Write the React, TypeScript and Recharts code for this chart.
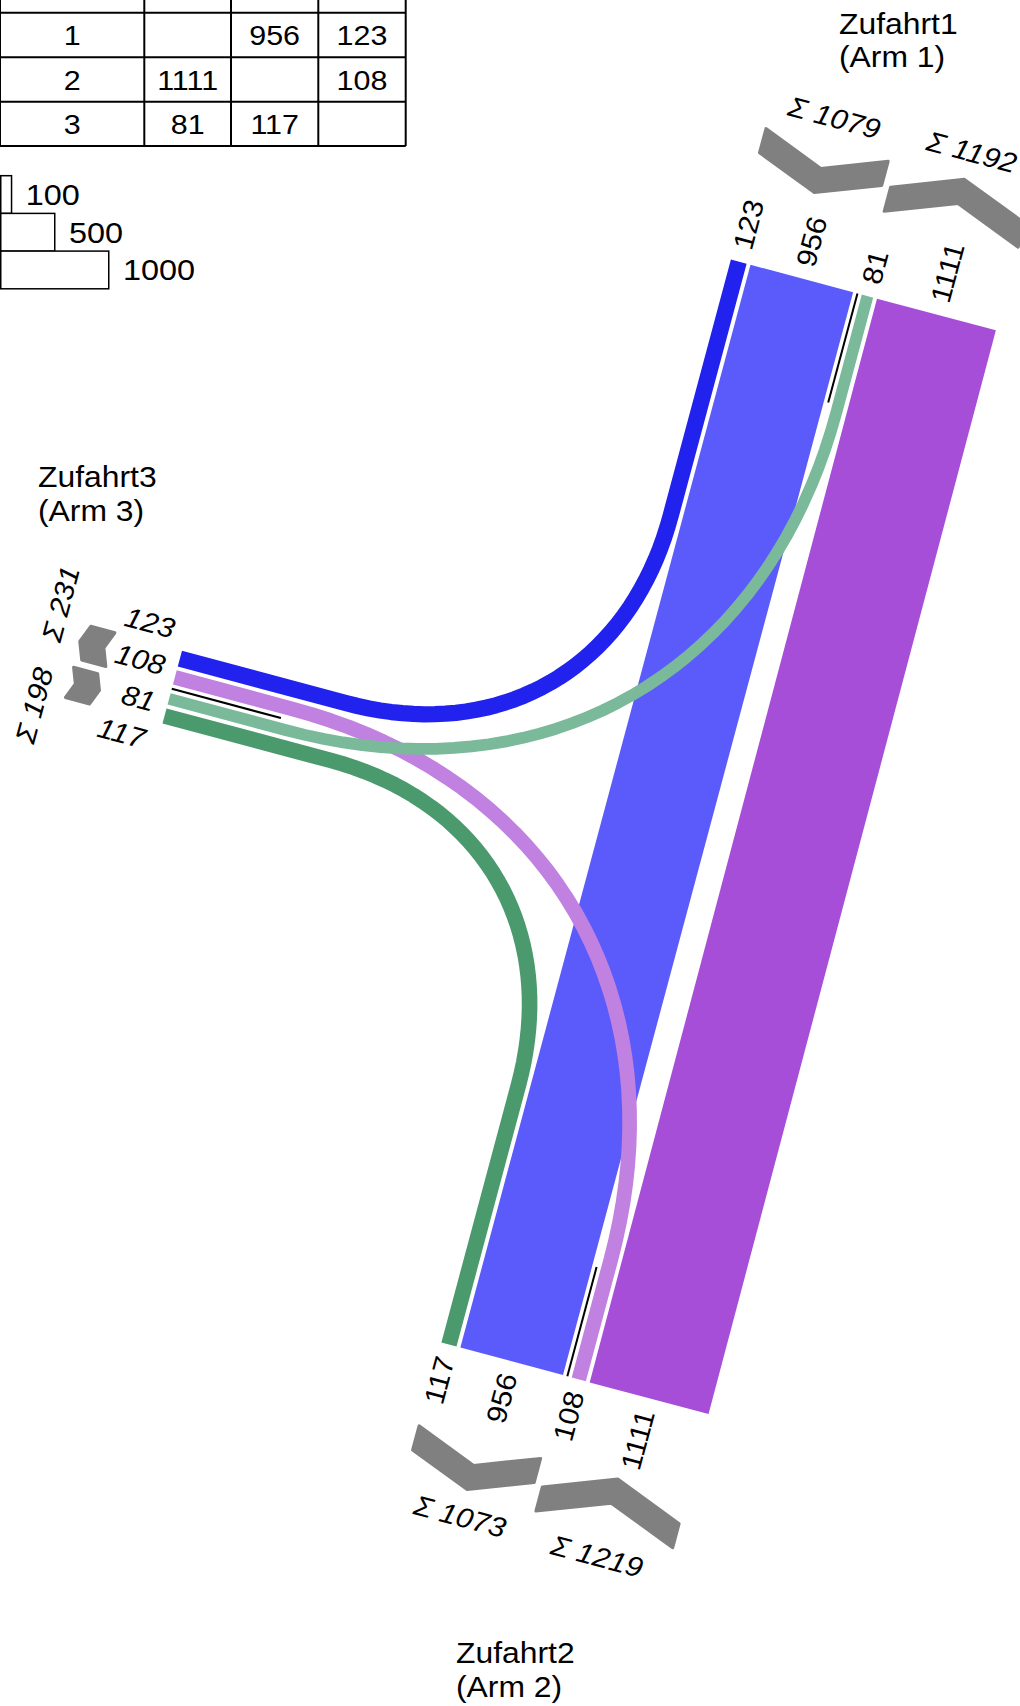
import React from "react";
import { ComposedChart, Line, Scatter, XAxis, YAxis } from "recharts";

// Knotenstrombelastung T-Knoten (Kfz), Zeilen = von, Spalten = nach
const ARMS = [1, 2, 3];
const ARM_TITLE = ["Zufahrt1", "Zufahrt2", "Zufahrt3"];
const ARM_SUB = ["(Arm 1)", "(Arm 2)", "(Arm 3)"];
const FROM_ARM_1 = [0, 956, 123];
const FROM_ARM_2 = [1111, 0, 108];
const FROM_ARM_3 = [81, 117, 0];
const LEGEND_STEPS = [100, 500, 1000];

const MATRIX = [FROM_ARM_1, FROM_ARM_2, FROM_ARM_3];

const COLORS: Record<string, string> = {
  "1-2": "#5b5bfb",
  "1-3": "#2222ee",
  "2-1": "#a74ed9",
  "2-3": "#c181e0",
  "3-1": "#7ab99a",
  "3-2": "#4b9a6d",
};

// ---- layout ----
const W = 1020;
const H = 1706;
const FONT = '"Liberation Sans", Arial, Helvetica, sans-serif';
const SX = 1.08; // glyphs of the original are a bit wider than Arial
const PX = 0.108; // px per vehicle
const W0 = 3;
const MED = 4.5;
const GAP = 4;
const RIGHT_T = 265;
const LEFT_T = 450;
const BEZ = 0.6;
const STOP = 113;
const LBL_GAP = 13;
const LBL_FS = 28;
const CHEV_TH = 25;
const CHEV_TAN = Math.tan((21 * Math.PI) / 180);
const GREY = "#808080";

type P = { x: number; y: number };
const rad = (15 * Math.PI) / 180;
const U: P = { x: Math.cos(rad), y: Math.sin(rad) };
const V: P = { x: -Math.sin(rad), y: Math.cos(rad) };
const add = (a: P, b: P, k = 1): P => ({ x: a.x + b.x * k, y: a.y + b.y * k });
const neg = (a: P): P => ({ x: -a.x, y: -a.y });
const sub = (a: P, b: P): P => ({ x: a.x - b.x, y: a.y - b.y });
const cross = (a: P, b: P) => a.x * b.y - a.y * b.x;
const dot = (a: P, b: P) => a.x * b.x + a.y * b.y;
const rightOf = (d: P): P => ({ x: -d.y, y: d.x });
const ORG: P = { x: 729, y: 259 };
const at = (s: number, t: number) => add(add(ORG, U, s), V, t);

// arm end (median point) and inward direction
const GEOM = [
  { end: at(133, 0), dir: V },
  { end: at(133, 1121), dir: neg(V) },
  { end: at(-427, 559.4), dir: U },
];
const TITLE_POS = [
  { x: 839, y: 33.5 },
  { x: 456, y: 1663 },
  { x: 38, y: 487 },
];

const charW = (c: string) => (c === " " ? 0.278 : c === "Σ" ? 0.6 : 0.556);
const textLen = (s: string, fs: number) =>
  s.split("").reduce((a, c) => a + charW(c), 0) * fs * SX;

const turnOf = (a: number, b: number) => {
  const c = cross(GEOM[a].dir, neg(GEOM[b].dir));
  if (Math.abs(c) < 0.3) return 1;
  return c > 0 ? 2 : 0;
};

type Flow = { a: number; b: number; v: number; w: number; turn: number; key: string; latIn: number; latOut: number };
const flows: Flow[] = [];
MATRIX.forEach((row, a) =>
  row.forEach((v, b) => {
    if (a !== b && v > 0)
      flows.push({ a, b, v, w: PX * v + W0, turn: turnOf(a, b), key: `${a + 1}-${b + 1}`, latIn: 0, latOut: 0 });
  })
);

const inOuter: number[] = [];
const outOuter: number[] = [];
ARMS.forEach((_, k) => {
  let o = MED;
  flows
    .filter((f) => f.a === k)
    .sort((p, q) => p.turn - q.turn)
    .forEach((f) => {
      f.latIn = o + f.w / 2;
      o += f.w + GAP;
    });
  inOuter[k] = o - GAP;
  o = MED;
  flows
    .filter((f) => f.b === k)
    .sort((p, q) => p.turn - q.turn)
    .forEach((f) => {
      f.latOut = -(o + f.w / 2);
      o += f.w + GAP;
    });
  outOuter[k] = o - GAP;
});

const flowPath = (f: Flow): P[] => {
  const A = GEOM[f.a];
  const B = GEOM[f.b];
  const p0 = add(A.end, rightOf(A.dir), f.latIn);
  const p3 = add(B.end, rightOf(B.dir), f.latOut);
  if (f.turn === 1) return [p0, p3];
  const nB = neg(B.dir);
  const lam = cross(sub(p3, p0), nB) / cross(A.dir, nB);
  const c = add(p0, A.dir, lam);
  const T = f.turn === 0 ? LEFT_T : RIGHT_T;
  const s1 = add(c, A.dir, -T);
  const s2 = add(c, B.dir, -T);
  const c1 = add(s1, A.dir, BEZ * T);
  const c2 = add(s2, B.dir, BEZ * T);
  const pts: P[] = [p0];
  const N = 40;
  for (let i = 0; i <= N; i++) {
    const u = i / N;
    const m = 1 - u;
    pts.push({
      x: m * m * m * s1.x + 3 * m * m * u * c1.x + 3 * m * u * u * c2.x + u * u * u * s2.x,
      y: m * m * m * s1.y + 3 * m * m * u * c1.y + 3 * m * u * u * c2.y + u * u * u * s2.y,
    });
  }
  pts.push(p3);
  return pts;
};

// straight flows first, left turns, then the rest on top
const drawOrder = [...flows].sort((p, q) => (p.turn === 1 ? -1 : 0) - (q.turn === 1 ? -1 : 0) || q.w - p.w);
const flowLines = drawOrder.map((f) => ({ f, pts: flowPath(f) }));

const medians = GEOM.map((g) => [g.end, add(g.end, g.dir, STOP)]);

// labels and direction chevrons
const textMarks: any[] = [];
const chevrons: any[] = [];
ARMS.forEach((_, k) => {
  const g = GEOM[k];
  const R = rightOf(g.dir);
  const out = neg(g.dir);
  const alongU = Math.abs(dot(out, U)) > Math.abs(dot(out, V));
  const readDir = alongU ? U : neg(V);
  const rot = alongU ? 15 : -75;
  const anchor = dot(out, readDir) > 0 ? "start" : "end";
  const items = flows
    .filter((f) => f.a === k || f.b === k)
    .map((f) => ({ lat: f.a === k ? f.latIn : f.latOut, v: f.v }))
    .sort((p, q) => p.lat - q.lat);
  const tight = items.some((it, i) => i > 0 && it.lat - items[i - 1].lat < 38);
  const mean = items.reduce((s, it) => s + it.lat, 0) / items.length;
  items.forEach((it, i) => {
    const lat = tight ? mean + (i - (items.length - 1) / 2) * 38 : it.lat;
    const p = add(add(g.end, R, lat), out, LBL_GAP);
    textMarks.push({ ...p, text: String(it.v), rot, anchor, base: "central", fs: LBL_FS, italic: alongU });
  });
  const maxLen = Math.max(...items.map((it) => textLen(String(it.v), LBL_FS)));
  const d0 = LBL_GAP + maxLen + 6;

  const sides = [
    { sign: 1, outer: inOuter[k], total: MATRIX[k].reduce((s, v) => s + v, 0), entering: true },
    { sign: -1, outer: outOuter[k], total: MATRIX.reduce((s, r) => s + r[k], 0), entering: false },
  ];
  const sums = sides.map((sd) => {
    const a = sd.sign * MED;
    const b = sd.sign * sd.outer;
    const m = (a + b) / 2;
    const dp = (Math.abs(b - a) / 2) * CHEV_TAN;
    const loc = (lat: number, d: number) => add(add(g.end, R, lat), out, d);
    const poly = sd.entering
      ? [loc(a, d0 + dp), loc(m, d0), loc(b, d0 + dp), loc(b, d0 + dp + CHEV_TH), loc(m, d0 + CHEV_TH), loc(a, d0 + dp + CHEV_TH)]
      : [loc(a, d0), loc(m, d0 + dp), loc(b, d0), loc(b, d0 + CHEV_TH), loc(m, d0 + dp + CHEV_TH), loc(a, d0 + CHEV_TH)];
    const c = loc(m, d0 + CHEV_TH / 2);
    chevrons.push({ ...c, poly: poly.map((q) => ({ dx: q.x - c.x, dy: q.y - c.y })) });
    const text = `Σ ${sd.total}`;
    return { m, d: d0 + dp + CHEV_TH + 28, text, len: textLen(text, LBL_FS) };
  });
  const [s1, s2] = sums;
  if (Math.abs(s1.m - s2.m) < (s1.len + s2.len) / 2 + 28) {
    const mid = (s1.m + s2.m) / 2;
    s1.m = mid + Math.sign(s1.m - mid) * (s1.len / 2 + 14);
    s2.m = mid + Math.sign(s2.m - mid) * (s2.len / 2 + 14);
  }
  sums.forEach((s) => {
    const p = add(add(g.end, R, s.m), out, s.d);
    textMarks.push({ ...p, text: s.text, rot: alongU ? -75 : 15, anchor: "middle", base: "central", fs: LBL_FS, italic: true });
  });
  const tp = TITLE_POS[k];
  textMarks.push({ ...tp, text: ARM_TITLE[k], rot: 0, anchor: "start", base: "alphabetic", fs: 29.5, italic: false });
  textMarks.push({ x: tp.x, y: tp.y + 33.5, text: ARM_SUB[k], rot: 0, anchor: "start", base: "alphabetic", fs: 29.5, italic: false });
});

const TextMark = (p: any) => {
  const d = p.payload;
  return (
    <text
      transform={`translate(${p.cx},${p.cy}) rotate(${d.rot}) scale(${SX},1)`}
      textAnchor={d.anchor}
      dominantBaseline={d.base}
      fontSize={d.fs}
      fontStyle={d.italic ? "italic" : "normal"}
      fontFamily={FONT}
      fill="#000"
    >
      {d.text}
    </text>
  );
};

const ChevronMark = (p: any) => {
  const pts = p.payload.poly.map((q: any) => `${p.cx + q.dx},${p.cy + q.dy}`).join(" ");
  return <polygon points={pts} fill={GREY} stroke={GREY} strokeWidth={3} strokeLinejoin="round" />;
};

// matrix table + width legend
const COL_X = [0, 144.3, 231, 318.3, 405.7];
const ROW_Y = [-32, 12.7, 57.3, 101.7, 146];
const LEG_Y = 175.7;
const LEG_H = 37.7;

const TableAndLegend = () => (
  <svg width={W} height={320} style={{ position: "absolute", left: 0, top: 0 }} fontFamily={FONT}>
    {ROW_Y.map((y, i) => (
      <line key={`r${i}`} x1={0} x2={COL_X[4]} y1={y} y2={y} stroke="#000" strokeWidth={2} />
    ))}
    {COL_X.map((x, i) => (
      <line key={`c${i}`} x1={x} x2={x} y1={ROW_Y[0]} y2={ROW_Y[4]} stroke="#000" strokeWidth={2} />
    ))}
    {MATRIX.map((row, r) => {
      const cy = (ROW_Y[r + 1] + ROW_Y[r + 2]) / 2;
      const cells = [String(ARMS[r]), ...row.map((v) => (v > 0 ? String(v) : ""))];
      return cells.map((t, c) => (
        <text
          key={`t${r}-${c}`}
          transform={`translate(${(COL_X[c] + COL_X[c + 1]) / 2},${cy}) scale(${SX},1)`}
          textAnchor="middle"
          dominantBaseline="central"
          fontSize={28.2}
        >
          {t}
        </text>
      ));
    })}
    {LEGEND_STEPS.map((v, i) => {
      const y = LEG_Y + i * LEG_H;
      const w = PX * v;
      return (
        <g key={`l${v}`}>
          <rect x={0.75} y={y} width={w} height={LEG_H} fill="#fff" stroke="#000" strokeWidth={1.5} />
          <text transform={`translate(${w + 15},${y + LEG_H - 8.5}) scale(${SX},1)`} fontSize={30}>
            {v}
          </text>
        </g>
      );
    })}
  </svg>
);

export default function App() {
  return (
    <div style={{ position: "absolute", left: 0, top: 0, width: W, height: H, background: "#fff", overflow: "hidden" }}>
      <TableAndLegend />
      <div style={{ position: "absolute", left: 0, top: 0 }}>
        <ComposedChart width={W} height={H} margin={{ top: 0, right: 0, bottom: 0, left: 0 }}>
          <XAxis type="number" dataKey="x" domain={[0, W]} allowDataOverflow hide />
          <YAxis type="number" dataKey="y" domain={[0, H]} allowDataOverflow reversed hide />
          {flowLines.map(({ f, pts }) => (
            <Line
              key={f.key}
              data={pts}
              dataKey="y"
              type="linear"
              stroke={COLORS[f.key]}
              strokeWidth={f.w}
              strokeLinejoin="round"
              strokeLinecap="butt"
              dot={false}
              activeDot={false}
              legendType="none"
              isAnimationActive={false}
            />
          ))}
          {medians.map((pts, i) => (
            <Line
              key={`med${i}`}
              data={pts}
              dataKey="y"
              type="linear"
              stroke="#000"
              strokeWidth={2}
              dot={false}
              activeDot={false}
              legendType="none"
              isAnimationActive={false}
            />
          ))}
          <Scatter data={chevrons} dataKey="y" shape={ChevronMark} isAnimationActive={false} legendType="none" />
          <Scatter data={textMarks} dataKey="y" shape={TextMark} isAnimationActive={false} legendType="none" />
        </ComposedChart>
      </div>
    </div>
  );
}
